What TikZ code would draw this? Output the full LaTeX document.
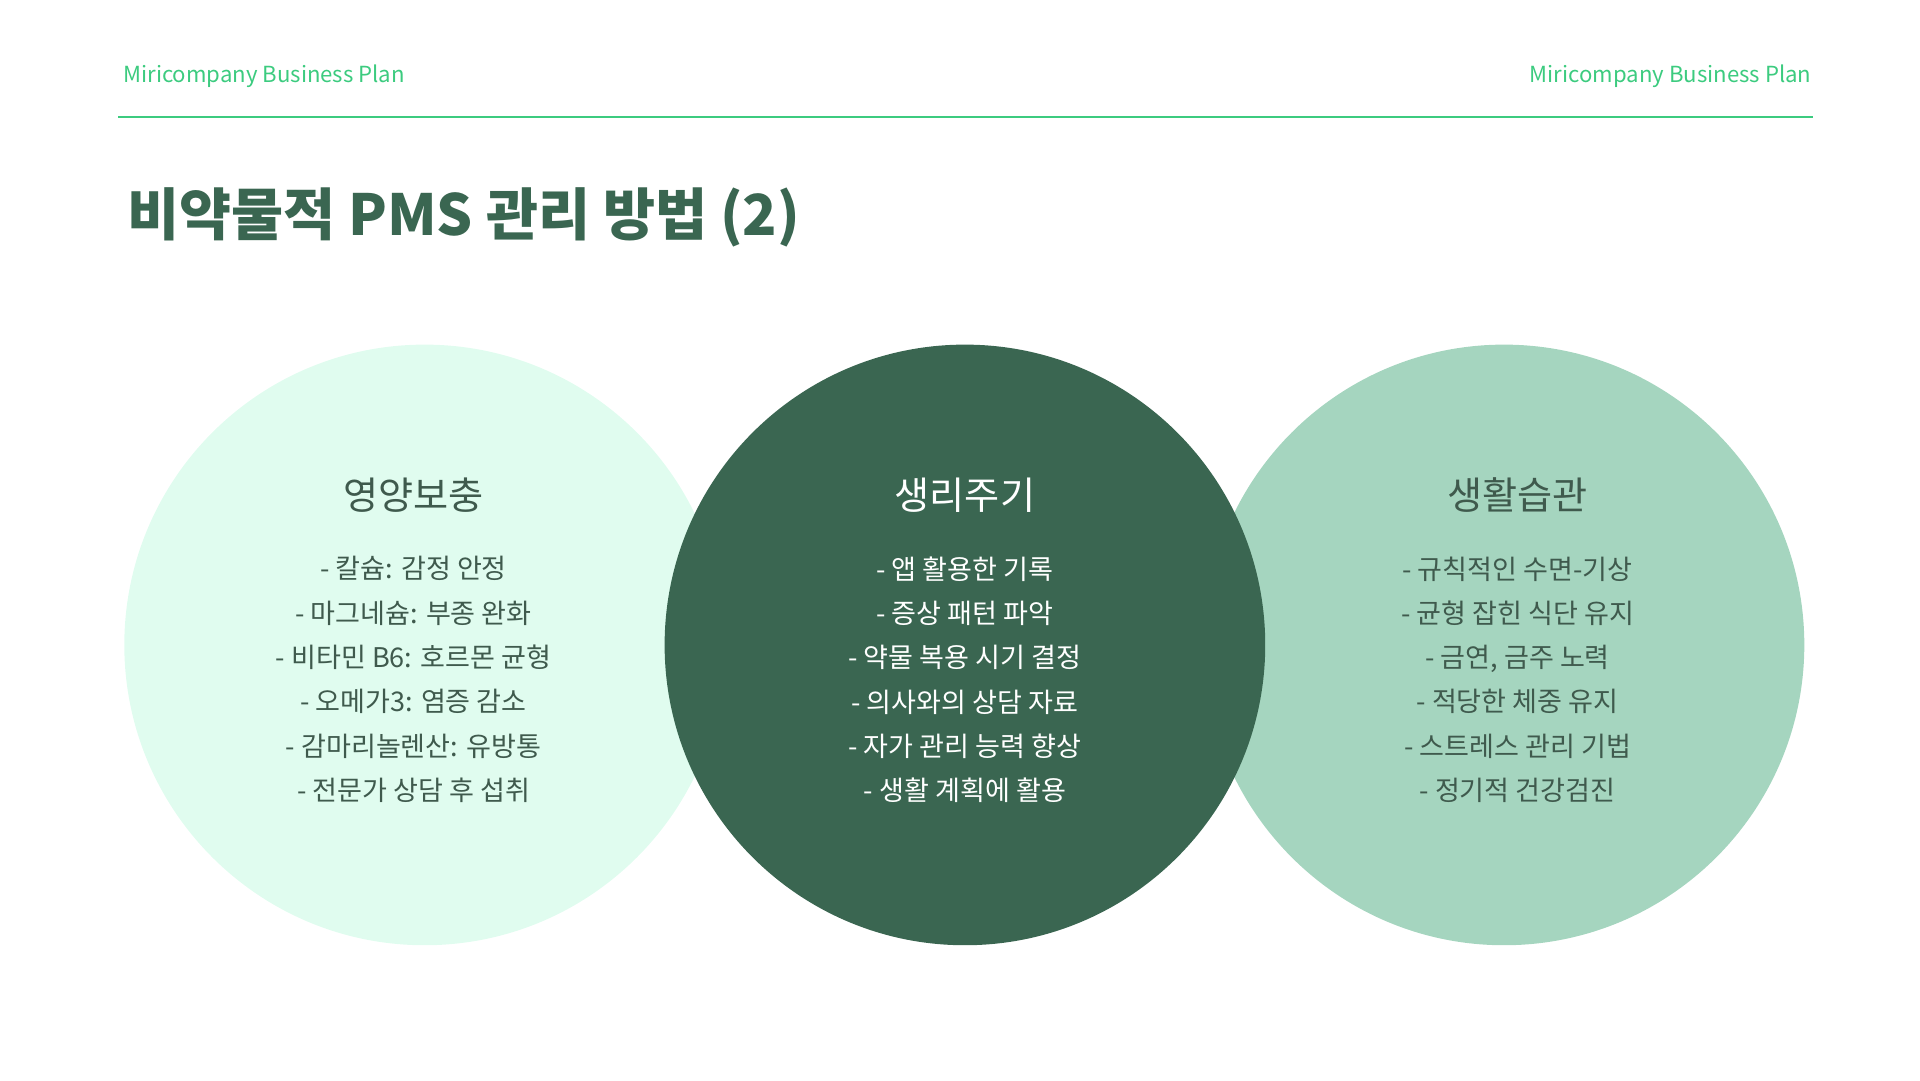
\documentclass[tikz,border=0pt]{standalone}
\usepackage{fontspec}
\setmainfont{Noto Sans CJK KR}
\definecolor{hdr}{HTML}{3CCB7F}
\definecolor{dk}{HTML}{3A6651}
\definecolor{lt}{HTML}{E0FCEF}
\definecolor{md}{HTML}{A5D5BF}
\definecolor{tx}{HTML}{3F5A4D}
\begin{document}
\begin{tikzpicture}[x=1pt,y=-1pt,
  hd/.style={font=\fontsize{18}{20}\selectfont,text=hdr,inner sep=0},
  ttl/.style={font=\fontsize{46}{50}\selectfont\bfseries,text=dk,anchor=west,inner sep=0},
  captxt/.style={font=\fontsize{31}{34}\selectfont,inner sep=0},
  body/.style={font=\fontsize{22}{36}\selectfont,align=center,inner sep=0,anchor=north}]
\useasboundingbox (0,0) rectangle (1560,878);
\fill[lt] (345,524) circle (244);
\fill[md] (1222,524) circle (244);
\fill[dk] (784,524) circle (244);
\node[hd,anchor=west] (hl) at (100,62) {Miricompany Business Plan};
\node[hd,anchor=east] (hr) at (1472,62) {Miricompany Business Plan};
\draw[hdr,line width=1.5] (96,95) -- (1473,95);
\node[ttl] (t) at (103,177) {비약물적 PMS 관리 방법 (2)};
\node[captxt,text=tx] (c1) at (336,402) {영양보충};
\node[captxt,text=white] (c2) at (784,402) {생리주기};
\node[captxt,text=tx] (c3) at (1233,402) {생활습관};
\node[body,text=tx] (b1) at (336,452) {- 칼슘: 감정 안정\\- 마그네슘: 부종 완화\\- 비타민 B6: 호르몬 균형\\- 오메가3: 염증 감소\\- 감마리놀렌산: 유방통\\- 전문가 상담 후 섭취};
\node[body,text=white] (b2) at (784,452) {- 앱 활용한 기록\\- 증상 패턴 파악\\- 약물 복용 시기 결정\\- 의사와의 상담 자료\\- 자가 관리 능력 향상\\- 생활 계획에 활용};
\node[body,text=tx] (b3) at (1233,452) {- 규칙적인 수면-기상\\- 균형 잡힌 식단 유지\\- 금연, 금주 노력\\- 적당한 체중 유지\\- 스트레스 관리 기법\\- 정기적 건강검진};
\end{tikzpicture}
\end{document}
